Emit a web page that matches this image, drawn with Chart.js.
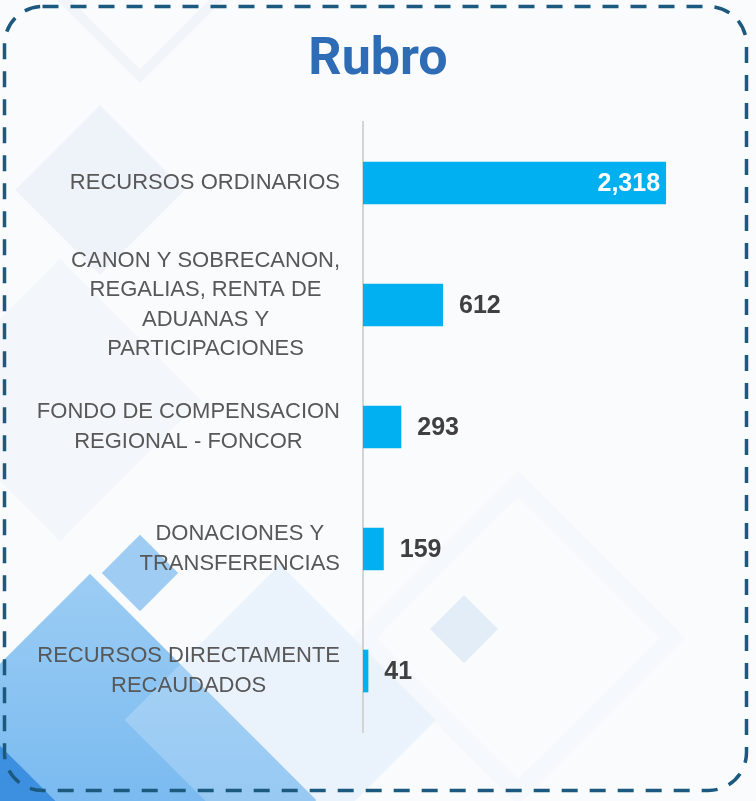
<!DOCTYPE html>
<html>
<head>
<meta charset="utf-8">
<script src="https://cdn.jsdelivr.net/npm/chart.js@4/dist/chart.umd.min.js"></script>
<style>
  html, body { margin: 0; padding: 0; }
  body { width: 756px; height: 801px; position: relative; overflow: hidden; background: #f9fbfd; }
  #bg { position: absolute; inset: 0; overflow: hidden; }
  #bg div { position: absolute; transform: rotate(45deg); }
  #title {
    position: absolute; left: 0; width: 756px; top: 22px; text-align: center;
    font: 700 52px Roboto, sans-serif; color: #2e6db5; line-height: 70px;
  }
  #wrap { position: absolute; left: 0; top: 0; width: 756px; height: 801px; }
  svg { position: absolute; left: 0; top: 0; }
</style>
</head>
<body>
<div id="bg">
  <div style="left:60px;top:-110px;width:140px;height:140px;border:10px solid rgba(205,222,238,0.18);"></div>
  <div style="left:40px;top:130px;width:120px;height:120px;background:rgba(222,233,245,0.4);"></div>
  <div style="left:-40px;top:300px;width:200px;height:200px;background:rgba(228,237,247,0.3);"></div>
  <div style="left:113px;top:546px;width:54px;height:54px;background:rgba(135,192,240,0.8);"></div>
  <div style="left:-70px;top:640px;width:320px;height:320px;background:linear-gradient(135deg,#9ccdf4,#58a8ec);"></div>
  <div style="left:-150px;top:730px;width:190px;height:190px;background:#3d90e0;"></div>
  <div style="left:170px;top:610px;width:220px;height:220px;background:rgba(205,228,248,0.35);"></div>
  <div style="left:440px;top:605px;width:48px;height:48px;background:rgba(200,220,242,0.45);"></div>
  <div style="left:400px;top:520px;width:200px;height:200px;border:18px solid rgba(240,245,251,0.45);"></div>
</div>
<div id="title">Rubro</div>
<div id="wrap"><canvas id="chart" width="756" height="801"></canvas></div>
<svg width="756" height="801">
  <rect x="4.5" y="6.5" width="742" height="784" rx="38" ry="38" fill="none"
        stroke="#1b5a7e" stroke-width="3.5" stroke-dasharray="16 12"/>
</svg>
<script>
const categories = [
  ['RECURSOS ORDINARIOS'],
  ['CANON Y SOBRECANON,', 'REGALIAS, RENTA DE', 'ADUANAS Y', 'PARTICIPACIONES'],
  ['FONDO DE COMPENSACION', 'REGIONAL - FONCOR'],
  ['DONACIONES Y', 'TRANSFERENCIAS'],
  ['RECURSOS DIRECTAMENTE', 'RECAUDADOS']
];
const values = [2318, 612, 293, 159, 41];

const labelFont = '22px "Liberation Sans", Arial, sans-serif';
const valueFont = 'bold 25px "Liberation Sans", Arial, sans-serif';

// y labels: each block right-aligned to the axis, lines centred inside the block
const categoryLabels = {
  id: 'categoryLabels',
  afterDraw(chart) {
    const { ctx, scales: { y } } = chart;
    ctx.save();
    ctx.font = labelFont;
    ctx.fillStyle = '#585858';
    ctx.textAlign = 'center';
    ctx.textBaseline = 'middle';
    const lineH = 29.5;
    const right = chart.chartArea.left - 23;
    categories.forEach((lines, i) => {
      const cy = y.getPixelForTick(i);
      const w = Math.max(...lines.map(l => ctx.measureText(l).width));
      const cx = right - w / 2;
      const top = cy - (lines.length - 1) * lineH / 2;
      lines.forEach((l, j) => ctx.fillText(l, cx, top + j * lineH));
    });
    ctx.restore();
  }
};

const valueLabels = {
  id: 'valueLabels',
  afterDatasetsDraw(chart) {
    const { ctx } = chart;
    const meta = chart.getDatasetMeta(0);
    ctx.save();
    ctx.font = valueFont;
    ctx.textBaseline = 'middle';
    meta.data.forEach((bar, i) => {
      const txt = values[i].toLocaleString('en-US');
      if (i === 0) {
        ctx.fillStyle = '#ffffff';
        ctx.textAlign = 'right';
        ctx.fillText(txt, bar.x - 6, bar.y + 1);
      } else {
        ctx.fillStyle = '#404040';
        ctx.textAlign = 'left';
        ctx.fillText(txt, bar.x + 16, bar.y + 1);
      }
    });
    ctx.restore();
  }
};

new Chart(document.getElementById('chart'), {
  type: 'bar',
  data: {
    labels: categories,
    datasets: [{
      data: values,
      backgroundColor: '#00b0f0',
      categoryPercentage: 1,
      barPercentage: 0.35
    }]
  },
  options: {
    indexAxis: 'y',
    responsive: false,
    animation: false,
    layout: { padding: { top: 122, bottom: 69, left: 0, right: 40 } },
    plugins: { legend: { display: false }, tooltip: { enabled: false } },
    scales: {
      x: { display: false, min: 0, max: 2700 },
      y: {
        grid: { display: false },
        border: { display: true, color: '#d4d4d4', width: 2 },
        ticks: { display: false },
        afterFit(scale) { scale.width = 363; }
      }
    }
  },
  plugins: [categoryLabels, valueLabels]
});
</script>
</body>
</html>
